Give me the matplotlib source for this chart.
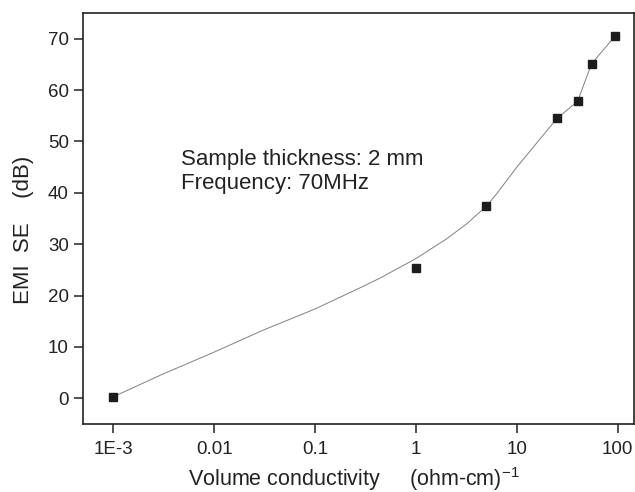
import matplotlib
matplotlib.use("Agg")
import matplotlib.pyplot as plt
from matplotlib.ticker import FixedLocator, FixedFormatter, NullLocator

plt.rcParams['font.family'] = ['Liberation Sans', 'DejaVu Sans']
plt.rcParams['mathtext.fontset'] = 'custom'
plt.rcParams['mathtext.rm'] = 'Liberation Sans'

# measured data points
conductivity = [1e-3, 1, 5, 25, 40, 55, 95]
emi_se = [0.3, 25.3, 37.4, 54.5, 57.8, 65.1, 70.6]

# smooth guide curve
curve_x = [1e-3, 3e-3, 0.01, 0.03, 0.1, 0.3, 0.45, 1, 2, 3.2, 5, 6.3, 10, 17, 25, 40, 55, 95]
curve_y = [0.3, 4.6, 9.0, 13.2, 17.4, 21.8, 23.5, 27.2, 31.0, 34.0, 37.4, 39.8, 45.0, 50.5, 54.5, 57.8, 65.1, 70.6]

xticks = [1e-3, 1e-2, 1e-1, 1, 10, 100]
xtick_labels = ['1E-3', '0.01', '0.1', '1', '10', '100']
yticks = [0, 10, 20, 30, 40, 50, 60, 70]

fig = plt.figure(figsize=(6.35, 4.92), dpi=100)
ax = fig.add_axes([83/635, 1-424/492, (634-83)/635, (424-13)/492])

ax.plot(curve_x, curve_y, color='#808080', lw=0.7, zorder=2)
ax.plot(conductivity, emi_se, linestyle='none', marker='s', markersize=5.3,
        color='#1c1c1c', zorder=3)

ax.set_xscale('log')
ax.set_xlim(5e-4, 145)
ax.set_ylim(-5, 75)
ax.xaxis.set_major_locator(FixedLocator(xticks))
ax.xaxis.set_major_formatter(FixedFormatter(xtick_labels))
ax.xaxis.set_minor_locator(NullLocator())
ax.set_yticks(yticks)

for s in ax.spines.values():
    s.set_linewidth(1.2)
    s.set_color('#222222')
ax.tick_params(axis='both', direction='out', length=6.2, width=1.1,
               labelsize=13.5, colors='#222222')
ax.tick_params(axis='x', pad=6)
ax.tick_params(axis='y', pad=4)
ax.tick_params(top=False, right=False)

ax.set_ylabel('EMI  SE    (dB)', fontsize=16, color='#222222')
ax.yaxis.set_label_coords(-0.089, 0.473)
ax.set_xlabel(r'Volume conductivity     (ohm-cm)$^{\mathregular{-1}}$', fontsize=15.5,
              color='#222222')
ax.xaxis.set_label_coords(0.492, -0.099)

ax.text(0.178, 0.630, 'Sample thickness: 2 mm', transform=ax.transAxes,
        fontsize=16, va='baseline', ha='left', color='#222222')
ax.text(0.178, 0.571, 'Frequency: 70MHz', transform=ax.transAxes,
        fontsize=16, va='baseline', ha='left', color='#222222')

fig.savefig('out.png', dpi=100)
